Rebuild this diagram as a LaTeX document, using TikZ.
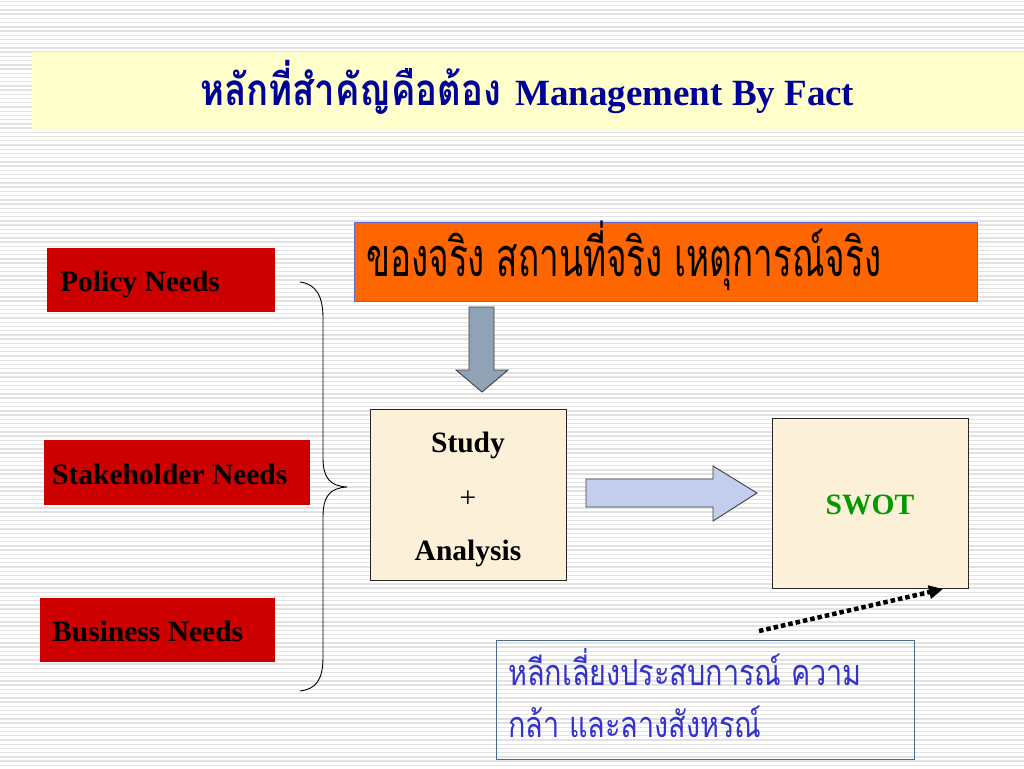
\documentclass[tikz,border=0pt]{standalone}
\usepackage{fontspec}
\setmainfont{Liberation Serif}
\newfontfamily\thaititle[Script=Thai,FakeStretch=0.83]{Loma}
\newfontfamily\thaiorange[Script=Thai,FakeStretch=0.65]{Loma}
\newfontfamily\thaibottom[Script=Thai,FakeStretch=0.8]{Loma}
\definecolor{stripecol}{HTML}{E2E2E2}
\definecolor{titlebg}{HTML}{FFFFCC}
\definecolor{titleblue}{HTML}{000099}
\definecolor{needred}{HTML}{CC0000}
\definecolor{factorange}{HTML}{FF6600}
\definecolor{orangeborder}{HTML}{6666CC}
\definecolor{parchment}{HTML}{FCF0D9}
\definecolor{downfill}{HTML}{8FA2B6}
\definecolor{rightfill}{HTML}{C3CDEE}
\definecolor{swotgreen}{HTML}{009900}
\definecolor{notebl}{HTML}{3333CC}
\definecolor{noteborder}{HTML}{4A6A8A}
\usetikzlibrary{arrows.meta}
\begin{document}
\begin{tikzpicture}[x=1pt,y=-1pt,
  stripe/.style={draw=stripecol,line width=1.4pt},
  boxbase/.style={anchor=north west,inner sep=0pt,outer sep=0pt},
  redbox/.style={boxbase,fill=needred},
  paperbox/.style={boxbase,fill=parchment,draw=black!85,line width=0.9pt},
  needtext/.style={anchor=base west,inner sep=0pt,font=\bfseries\fontsize{29.5}{34}\selectfont,text=black},
  boldtext/.style={anchor=base,inner sep=0pt,font=\bfseries\fontsize{29.5}{34}\selectfont},
  blockarrow/.style={draw=black!75,line width=0.9pt,line join=miter}
]
\useasboundingbox (0,0) rectangle (1024,768);
\fill[white] (0,0) rectangle (1024,768);
\foreach \i in {0,...,181} \draw[stripe] (0,\i*4.22+1.5) -- (1024,\i*4.22+1.5);

% title band
\node[boxbase,fill=titlebg,minimum width=992pt,minimum height=78pt] (band) at (32,52) {};
\node[anchor=base west,inner sep=0pt,text=titleblue] (titlethai) at (200,105)
  {\thaititle\bfseries\fontsize{44}{50}\selectfont หลักที่สำคัญคือต้อง};
\node[anchor=base west,inner sep=0pt,text=titleblue,font=\bfseries\fontsize{37}{44}\selectfont] (titlelatin) at (515,105) {Management By Fact};

% need boxes
\node[redbox,minimum width=228pt,minimum height=64pt] (policy) at (47,248) {};
\node[needtext] (policyT) at (60,291) {Policy Needs};
\node[redbox,minimum width=266pt,minimum height=65pt] (stake) at (44,440) {};
\node[needtext] (stakeT) at (52,484) {Stakeholder Needs};
\node[redbox,minimum width=235pt,minimum height=64pt] (business) at (40,598) {};
\node[needtext] (businessT) at (52,641) {Business Needs};

% brace
\coordinate (bracetop) at (300,282);
\coordinate (bracetip) at (347,487);
\coordinate (bracebot) at (300,691);
\draw[line width=0.9pt,black] (bracetop) .. controls (316,284) and (323,296) .. (323,318)
  -- (323,458) .. controls (323,478) and (330,486) .. (bracetip)
  .. controls (330,488) and (323,496) .. (323,517)
  -- (323,657) .. controls (323,680) and (316,689) .. (bracebot);

% facts box
\node[boxbase,fill=factorange,draw=orangeborder,line width=0.9pt,minimum width=623pt,minimum height=79pt] (facts) at (354,222) {};
\node[anchor=base west,inner sep=0pt,text=black] (factsT) at (366,276)
  {\thaiorange\fontsize{54}{60}\selectfont ของจริง สถานที่จริง เหตุการณ์จริง};

% down arrow
\draw[blockarrow,fill=downfill] (469,307) -- (494,307) -- (494,370) -- (508,370) -- (482,392) -- (456,370) -- (469,370) -- cycle;

% study box
\node[paperbox,minimum width=196pt,minimum height=171pt] (study) at (370,409) {};
\node[boldtext] (studyT1) at (468,452) {Study};
\node[boldtext,font=\fontsize{29.5}{34}\selectfont] (studyT2) at (468,507) {+};
\node[boldtext] (studyT3) at (468,560) {Analysis};

% right arrow
\draw[blockarrow,fill=rightfill] (586,479) -- (713,479) -- (713,466) -- (757,493) -- (713,521) -- (713,507) -- (586,507) -- cycle;

% swot box
\node[paperbox,minimum width=196pt,minimum height=170pt] (swot) at (772,418) {};
\node[boldtext,text=swotgreen] (swotT) at (870,514) {SWOT};

% note box
\node[boxbase,draw=noteborder,line width=0.9pt,minimum width=418pt,minimum height=119pt] (note) at (496,640) {};
\node[anchor=base west,inner sep=0pt,text=notebl] (noteT1) at (508,685)
  {\thaibottom\fontsize{36}{40}\selectfont หลีกเลี่ยงประสบการณ์ ความ};
\node[anchor=base west,inner sep=0pt,text=notebl] (noteT2) at (508,737)
  {\thaibottom\fontsize{36}{40}\selectfont กล้า และลางสังหรณ์};

% dotted arrow
\coordinate (dotstart) at (759,631);
\coordinate (dotend) at (943,589);
\draw[line width=4.5pt,dash pattern=on 4.5pt off 3pt,-{Triangle[length=14pt,width=13pt]}] (dotstart) -- (dotend);
\end{tikzpicture}
\end{document}
